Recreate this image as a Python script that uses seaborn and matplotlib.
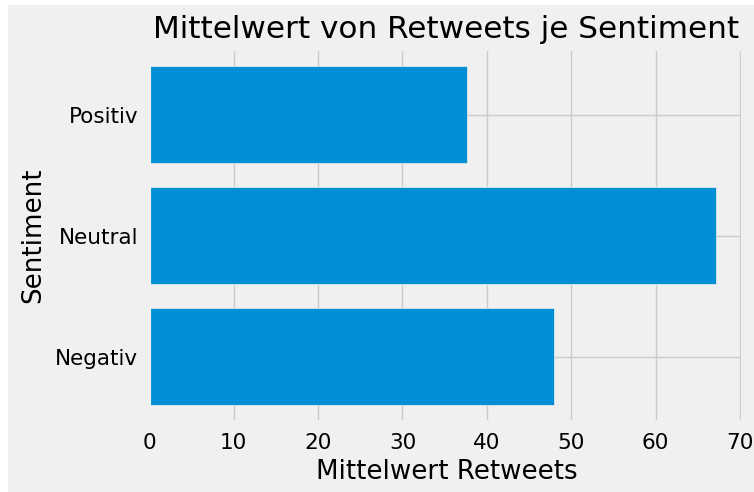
import matplotlib
matplotlib.use("Agg")
import matplotlib.pyplot as plt
from matplotlib.patches import Rectangle
import seaborn as sns
import pandas as pd

sentiments = ["Positiv", "Neutral", "Negativ"]
mean_retweets = [37.6, 67.1, 47.9]

df = pd.DataFrame({"Sentiment": sentiments, "Retweets": mean_retweets})

plt.style.use("fivethirtyeight")

fig = plt.figure(figsize=(7.54, 4.92), dpi=100, facecolor="white")
# grey canvas with a thin white margin at top/left like the screenshot
fig.patches.append(Rectangle((8 / 754, 0), 1, 1 - 5 / 492, transform=fig.transFigure,
                             facecolor="#f0f0f0", edgecolor="none", zorder=-10))

ax = fig.add_axes([0.198, 0.142, 0.788, 0.758])

sns.barplot(data=df, x="Retweets", y="Sentiment", order=sentiments,
            color="#008fd5", saturation=1, width=0.8,
            edgecolor="#f0f0f0", linewidth=0.5, ax=ax)

ax.set_ylim(2.54, -0.54)
ax.set_xlim(0, 70.4)
ax.yaxis.grid(True)
ax.xaxis.grid(True)
ax.set_axisbelow(True)
ax.tick_params(labelsize=15.5, pad=8)

ax.set_title("Mittelwert von Retweets je Sentiment", fontsize=22.4, pad=8)
ax.set_xlabel("Mittelwert Retweets", fontsize=18.8, labelpad=4)
ax.set_ylabel("Sentiment", fontsize=18.8, labelpad=6)

fig.savefig("out.png", dpi=100, facecolor=fig.get_facecolor())
